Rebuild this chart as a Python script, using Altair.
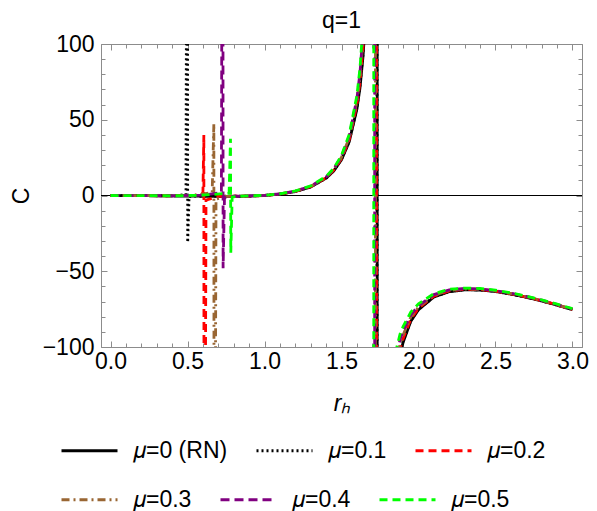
import altair as alt
import pandas as pd

# ---------------- data ----------------
SERIES = ["𝜇=0 (RN)", "𝜇=0.1", "𝜇=0.2", "𝜇=0.3", "𝜇=0.4", "𝜇=0.5"]
COLORS = ["#000000", "#000000", "#ff0000", "#996633", "#800080", "#00ff00"]
DASHES = [[1, 0], [2, 3], [8, 5], [8, 4, 2, 4], [9, 5], [8, 5]]

# shared r grids (rising branch and branch beyond the pole)
R_RISE = [0.9, 1.0, 1.1, 1.2, 1.3, 1.4, 1.45, 1.5, 1.55, 1.6, 1.62, 1.64, 1.66, 1.70]
R_FALL = [1.8, 1.85, 1.88, 1.9, 1.95, 2.0, 2.1, 2.2, 2.3, 2.4, 2.5, 2.6, 2.7, 2.8, 2.9, 3.0]

# mu = 0 (RN)
R_00 = [0.0, 0.2, 0.4, 0.6, 0.8] + R_RISE + [1.7315, 1.7325] + R_FALL
C_00 = [0, -0.1, -0.3, -0.5, -0.6,
        -0.4, 0, 0.9, 2.6, 5.6, 11.4, 16.2, 23.6, 35.4, 57, 71, 92, 124, 300,
        20000, -20000,
        -190, -126, -105, -97, -83, -75.4, -67, -63.5, -62.3, -62.4, -63.4, -65.1, -67.2, -69.6, -72.4, -75.4]

# mu = 0.1
R_01 = [0.0, 0.2, 0.4, 0.49, 0.499, 0.501, 0.51, 0.6, 0.7, 0.8] + R_RISE + [1.730, 1.731] + R_FALL
C_01 = [0, -0.1, -0.2, 0.5, 400, -31, -0.5, -0.4, -0.5, -0.5,
        -0.4, 0, 0.9, 2.6, 5.7, 11.5, 16.4, 23.9, 35.9, 58, 72.5, 94, 128, 320,
        20000, -20000,
        -185, -124, -104, -96.2, -82.6, -75.1, -66.8, -63.3, -62.1, -62.3, -63.3, -65, -67.1, -69.5, -72.3, -75.3]

# mu = 0.2
R_02 = [0.0, 0.2, 0.4, 0.55, 0.6, 0.606, 0.608, 0.62, 0.7, 0.8] + R_RISE + [1.727, 1.728] + R_FALL
C_02 = [0, -0.1, -0.2, 0.2, 1.5, 40, -400, -3, -0.6, -0.5,
        -0.4, 0, 1.0, 2.7, 5.8, 11.7, 16.7, 24.4, 36.8, 60, 75, 98, 135, 380,
        20000, -20000,
        -175, -120, -101, -94.5, -81.6, -74.5, -66.4, -63, -61.9, -62.1, -63.1, -64.9, -67, -69.4, -72.2, -75.2]

# mu = 0.3
R_03 = [0.0, 0.2, 0.4, 0.55, 0.66, 0.671, 0.673, 0.685, 0.75, 0.8] + R_RISE + [1.720, 1.721] + R_FALL
C_03 = [0, -0.1, -0.2, 0.2, 2, 47.5, -400, -2.5, -0.6, -0.5,
        -0.3, 0.1, 1.0, 2.8, 6.0, 12.0, 17.2, 25.2, 38, 62, 78, 103, 143, 500,
        20000, -20000,
        -160, -115, -98, -92, -80.2, -73.6, -65.9, -62.7, -61.7, -61.9, -63, -64.7, -66.8, -69.3, -72.1, -75.1]

# mu = 0.4
R_04 = [0.0, 0.2, 0.4, 0.6, 0.72, 0.729, 0.731, 0.74, 0.8, 0.85] + R_RISE + [1.715, 1.716] + R_FALL
C_04 = [0, -0.1, -0.2, 0.2, 2, 400, -48, -1.5, -0.5, -0.4,
        -0.3, 0.1, 1.1, 2.9, 6.1, 12.3, 17.6, 25.8, 39, 64, 81, 108, 152, 800,
        20000, -20000,
        -145, -110, -95, -89.5, -78.8, -72.7, -65.4, -62.3, -61.4, -61.7, -62.8, -64.5, -66.6, -69.1, -71.9, -74.9]

# mu = 0.5
R_05 = [0.0, 0.2, 0.4, 0.6, 0.77, 0.779, 0.781, 0.79, 0.83, 0.86] + R_RISE + [1.709, 1.710] + R_FALL
C_05 = [0, -0.1, -0.2, 0.2, 1.5, 37.4, -37.8, -1, -0.5, -0.4,
        -0.3, 0.1, 1.1, 3.0, 6.3, 12.6, 18.0, 26.5, 40.2, 66, 84, 113, 162, 1500,
        20000, -20000,
        -132, -104, -91.5, -86.5, -77, -71.5, -64.8, -61.9, -61.1, -61.4, -62.5, -64.3, -66.4, -68.9, -71.7, -74.7]

X_MAJOR = [0.0, 0.5, 1.0, 1.5, 2.0, 2.5, 3.0]
X_MINOR = [0.0, 0.1, 0.2, 0.3, 0.4, 0.5, 0.6, 0.7, 0.8, 0.9, 1.0, 1.1, 1.2, 1.3, 1.4, 1.5,
           1.6, 1.7, 1.8, 1.9, 2.0, 2.1, 2.2, 2.3, 2.4, 2.5, 2.6, 2.7, 2.8, 2.9, 3.0]
Y_MAJOR = [-100, -50, 0, 50, 100]
Y_MINOR = [-100, -90, -80, -70, -60, -50, -40, -30, -20, -10, 0, 10, 20, 30, 40, 50, 60, 70, 80, 90, 100]

# ---------------- build table ----------------
rows = []
for name, rr, cc in zip(SERIES, [R_00, R_01, R_02, R_03, R_04, R_05],
                        [C_00, C_01, C_02, C_03, C_04, C_05]):
    assert len(rr) == len(cc), name
    for i, (r, c) in enumerate(zip(rr, cc)):
        rows.append({"series": name, "r": r, "C": c, "i": i})
df = pd.DataFrame(rows)
df_a = df[df["series"].isin(SERIES[:3])]
df_b = df[df["series"].isin(SERIES[3:])]
# small frame used only to carry the extra tick axes
axis_df = pd.DataFrame({"r": [0.0, 3.0], "C": [-100, 100]})

FONT = "Liberation Sans"
GRAY = "#8c8c8c"
FS = 23

xscale = alt.Scale(domain=[-0.062, 3.062], nice=False, zero=False)
yscale = alt.Scale(domain=[-100, 100], nice=False, zero=False)


def ax(orient, values, size, labels=False, title=None, fmt=None, **kw):
    args = dict(orient=orient, values=values, tickSize=size, offset=-size, domain=False,
                grid=False, labels=labels, tickColor=GRAY, tickWidth=1, minExtent=0)
    if labels:
        args.update(labelFont=FONT, labelFontSize=FS, labelColor="black", format=fmt)
    if title is not None:
        args.update(title=title, titleFont=FONT, titleFontSize=FS, titleFontWeight="normal",
                    titleColor="black")
    else:
        args.update(title=None)
    args.update(kw)
    return alt.Axis(**args)


def make_legend(y):
    return alt.Legend(title=None, orient="none", legendX=-41, legendY=y,
                      direction="horizontal", columns=3,
                      symbolType="stroke", symbolSize=3136, symbolStrokeWidth=3,
                      labelFont=FONT, labelFontSize=FS, labelColor="black",
                      labelOffset=14, columnPadding=22, padding=0)


leg_a = make_legend(377)
leg_b = make_legend(426)

zero = alt.Chart(pd.DataFrame({"C": [0]})).mark_rule(color="black", strokeWidth=1.2).encode(
    y=alt.Y("C:Q", scale=yscale, axis=None)
)

lines_a = alt.Chart(df_a).mark_line(clip=True, strokeWidth=2.8, strokeCap="butt").encode(
    x=alt.X("r:Q", scale=xscale,
            axis=ax("bottom", X_MAJOR, 6, labels=True, title="rₕ", fmt=".1f",
                    labelPadding=3, titleFontStyle="italic", titlePadding=19)),
    y=alt.Y("C:Q", scale=yscale,
            axis=ax("left", Y_MAJOR, 6, labels=True, title="C", fmt="d",
                    labelPadding=7, titlePadding=9)),
    color=alt.Color("series:N", scale=alt.Scale(domain=SERIES[:3], range=COLORS[:3]), legend=leg_a),
    strokeDash=alt.StrokeDash("series:N", scale=alt.Scale(domain=SERIES[:3], range=DASHES[:3]),
                              legend=leg_a),
    order=alt.Order("i:Q"),
)

lines_b = alt.Chart(df_b).mark_line(clip=True, strokeWidth=2.8, strokeCap="butt").encode(
    x=alt.X("r:Q", scale=xscale, axis=None),
    y=alt.Y("C:Q", scale=yscale, axis=None),
    color=alt.Color("series:N", scale=alt.Scale(domain=SERIES[3:], range=COLORS[3:]), legend=leg_b),
    strokeDash=alt.StrokeDash("series:N", scale=alt.Scale(domain=SERIES[3:], range=DASHES[3:]),
                              legend=leg_b),
    order=alt.Order("i:Q"),
)

ghost = alt.Chart(axis_df).mark_point(opacity=0, clip=True)
minor_bl = ghost.encode(
    x=alt.X("r:Q", scale=xscale, axis=ax("bottom", X_MINOR, 4)),
    y=alt.Y("C:Q", scale=yscale, axis=ax("left", Y_MINOR, 4)),
)
major_tr = ghost.encode(
    x=alt.X("r:Q", scale=xscale, axis=ax("top", X_MAJOR, 6)),
    y=alt.Y("C:Q", scale=yscale, axis=ax("right", Y_MAJOR, 6)),
)
minor_tr = ghost.encode(
    x=alt.X("r:Q", scale=xscale, axis=ax("top", X_MINOR, 4)),
    y=alt.Y("C:Q", scale=yscale, axis=ax("right", Y_MINOR, 4)),
)

chart = alt.layer(zero, lines_a, lines_b, minor_bl, major_tr, minor_tr).resolve_axis(
    x="independent", y="independent"
).resolve_scale(
    color="independent", strokeDash="independent"
).properties(
    width=481, height=303,
    title=alt.TitleParams("q=1", font=FONT, fontSize=FS, fontWeight="normal",
                          color="black", anchor="middle", offset=0),
    padding={"left": 2, "top": 2, "right": 0, "bottom": 0},
).configure_view(stroke=GRAY, strokeWidth=1)

chart.save("out.html", embed_options={"renderer": "svg", "actions": False})
